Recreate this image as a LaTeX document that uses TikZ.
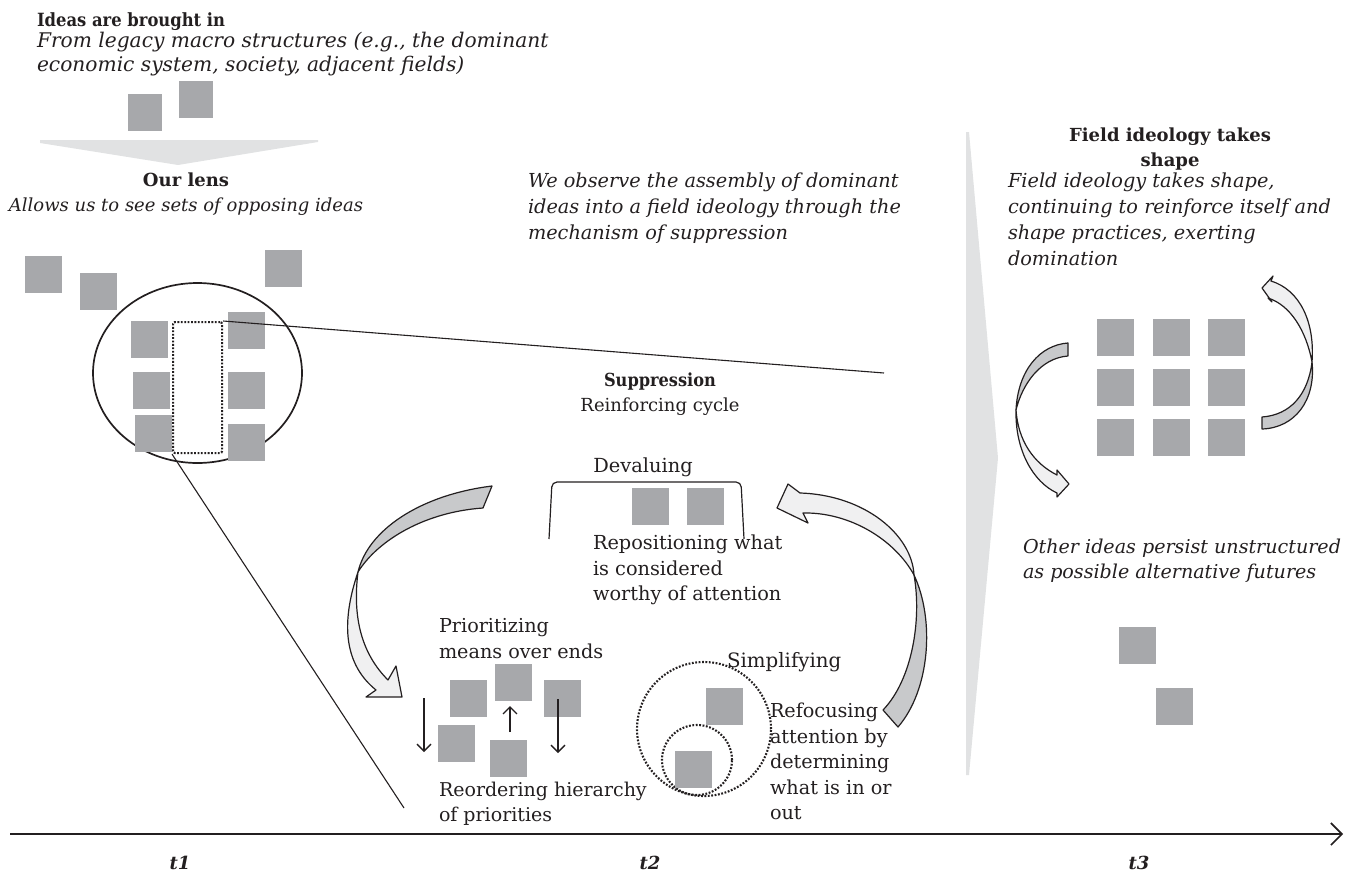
\documentclass[tikz,border=0pt]{standalone}
\usepackage{fontspec}
\setmainfont{DejaVu Serif}
\usetikzlibrary{arrows.meta}
\definecolor{sqgray}{HTML}{A7A8AB}
\definecolor{funnel}{HTML}{E1E2E3}
\definecolor{arrgray}{HTML}{C8C9CB}
\definecolor{arrlight}{HTML}{F0F0F1}
\definecolor{ink}{HTML}{231F20}
\begin{document}
\begin{tikzpicture}[x=1pt,y=-1pt,
  sq/.style={fill=sqgray,draw=none,inner sep=0pt,outer sep=0pt,minimum width=37pt,minimum height=37pt,anchor=north west},
  sqn/.style={sq,minimum width=34pt},
  txt/.style={inner sep=0pt,outer sep=0pt,text=ink,font=\fontsize{19.2}{25.5}\selectfont,align=left},
  ctxt/.style={txt,align=center},
  band/.style={draw=ink,line width=1.2pt,line join=round},
  dotline/.style={draw=ink,line width=2.1pt,dash pattern=on 1.8pt off 1.6pt},
  smallarr/.style={draw=ink,line width=1.3pt,-{Straight Barb[length=7pt,width=14pt]}},
  thin/.style={draw=ink,line width=1.1pt}
]
\useasboundingbox (0,0) rectangle (1356,880);

% ---------- top left ----------
\node[txt,anchor=base west,font=\fontsize{18.2}{25}\selectfont\bfseries\addfontfeature{FakeStretch=0.9}] (ideas) at (37,27) {Ideas are brought in};
\node[txt,anchor=north west,font=\fontsize{20.2}{24}\selectfont\itshape] (legacy) at (37,32.6) {From legacy macro structures (e.g., the dominant\\economic system, society, adjacent fields)};
\node[sqn] (q1) at (128,94) {};
\node[sqn] (q2) at (179,81) {};
\fill[funnel] (40,140) -- (318,140) -- (318,142) -- (178,165) -- (40,143) -- cycle;
\node[ctxt,anchor=north,font=\fontsize{18}{25}\selectfont] (lens) at (186,173.3) {\bfseries Our lens\\\itshape Allows us to see sets of opposing ideas};

% ---------- lens ----------
\node[sq] (o1) at (25,256) {};
\node[sq] (o2) at (80,273) {};
\node[sq] (o3) at (265,250) {};
\draw[ink,line width=1.7pt] (197.5,373) ellipse [x radius=104.5pt, y radius=90pt];
\node[sq] (l1) at (131,321) {};
\node[sq] (l2) at (133,372) {};
\node[sq] (l3) at (135,415) {};
\node[sq] (r1) at (228,312) {};
\node[sq] (r2) at (228,372) {};
\node[sq] (r3) at (228,424) {};
\node[dotline,rounded corners=2pt,inner sep=0pt,minimum width=49pt,minimum height=131pt,anchor=north west] (zoom) at (172,321) {};
\coordinate (zA) at (884,373);
\coordinate (zB) at (404,808);
\draw[thin] (zoom.north east) -- (zA);
\draw[thin] (zoom.south west) -- (zB);

% ---------- middle ----------
\node[txt,anchor=north west,font=\fontsize{19.3}{26}\selectfont\itshape] (observe) at (528,173.3) {We observe the assembly of dominant\\ideas into a field ideology through the\\mechanism of suppression};
\node[ctxt,anchor=north,font=\fontsize{18}{25}\selectfont] (supp) at (660,372.8) {{\bfseries\addfontfeature{FakeStretch=0.9}Suppression}\\Reinforcing cycle};

\node[txt,anchor=base,font=\fontsize{19.4}{25}\selectfont] (deval) at (643,472) {Devaluing};
\draw[ink,line width=1.2pt,rounded corners=5pt] (549,539) -- (552,482) -- (741,482) -- (744,539);
\node[sq] (d1) at (632,488) {};
\node[sq] (d2) at (687,488) {};
\node[txt,anchor=north west,font=\fontsize{19.3}{25.5}\selectfont] (repos) at (593,535.3) {Repositioning what\\is considered\\worthy of attention};

\node[txt,anchor=north west,font=\fontsize{19.2}{26}\selectfont] (prior) at (439,618.3) {Prioritizing\\means over ends};
\node[sq] (p1) at (450,680) {};
\node[sq] (p2) at (495,664) {};
\node[sq] (p3) at (544,680) {};
\node[sq] (p4) at (438,725) {};
\node[sq] (p5) at (490,740) {};
\coordinate (a1s) at (424,698); \coordinate (a1e) at (424,752);
\coordinate (a2s) at (510,732); \coordinate (a2e) at (510,706);
\coordinate (a3s) at (558,699); \coordinate (a3e) at (558,753);
\draw[smallarr] (a1s) -- (a1e);
\draw[smallarr] (a2s) -- (a2e);
\draw[smallarr] (a3s) -- (a3e);
\node[txt,anchor=north west,font=\fontsize{19}{25}\selectfont] (reord) at (439,782.5) {Reordering hierarchy\\of priorities};

\draw[dotline] (704,729) circle [radius=67pt];
\draw[dotline] (697,760) circle [radius=35pt];
\node[sq] (s1) at (706,688) {};
\node[sq] (s2) at (675,751) {};
\node[txt,anchor=base west,font=\fontsize{19.8}{25}\selectfont] (simp) at (727,667) {Simplifying};
\node[txt,anchor=north west] (refoc) at (770,703.3) {Refocusing\\attention by\\determining\\what is in or\\out};

% big left arrow
\filldraw[band,fill=arrgray] (492,486) .. controls (420,495) and (368,530) .. (358,572) .. controls (378,540) and (425,512) .. (483,508) -- cycle;
\filldraw[band,fill=arrlight] (358,572) .. controls (340,625) and (345,665) .. (376,690) -- (366,697) -- (402,697) -- (396,666) -- (388,680) .. controls (363,655) and (352,620) .. (358,572) -- cycle;
% big right arrow
\filldraw[band,fill=arrlight] (777,508) -- (788,484) -- (800,493) .. controls (865,495) and (912,535) .. (914,575) .. controls (895,540) and (850,512) .. (803,513) -- (808,523) -- cycle;
\filldraw[band,fill=arrgray] (914,575) .. controls (935,620) and (930,690) .. (898,727) -- (883,710) .. controls (912,680) and (922,620) .. (914,575) -- cycle;

% ---------- right ----------
\fill[funnel] (966,132) -- (969,132) -- (998,458) -- (969,775) -- (966,775) -- cycle;
\node[ctxt,anchor=north,font=\fontsize{18}{25}\selectfont\bfseries] (field) at (1170,128.3) {Field ideology takes\\shape};
\node[txt,anchor=north west,font=\fontsize{19.3}{26}\selectfont\itshape] (fieldtxt) at (1008,173.3) {Field ideology takes shape,\\continuing to reinforce itself and\\shape practices, exerting\\domination};
\foreach \c [count=\i] in {1097,1153,1208}{
  \foreach \r [count=\j] in {319,369,419}{
    \node[sq] (g\i\j) at (\c,\r) {};
  }
}
% left grid arrow
\filldraw[band,fill=arrgray] (1068,343) .. controls (1040,345) and (1018,370) .. (1016,410) .. controls (1022,385) and (1040,358) .. (1068,356) -- cycle;
\filldraw[band,fill=arrlight] (1016,410) .. controls (1015,450) and (1033,482) .. (1057,493) -- (1057,497) -- (1069,484) -- (1057,470) -- (1057,475) .. controls (1033,463) and (1018,440) .. (1016,410) -- cycle;
% right grid arrow
\filldraw[band,fill=arrlight] (1262,288) -- (1273,276) -- (1271,281) .. controls (1300,290) and (1315,322) .. (1312,362) .. controls (1306,330) and (1290,305) .. (1268,298) -- (1272,302) -- cycle;
\filldraw[band,fill=arrgray] (1312,362) .. controls (1316,400) and (1295,428) .. (1262,429) -- (1262,417) .. controls (1290,415) and (1308,395) .. (1312,362) -- cycle;

\node[txt,anchor=north west,font=\fontsize{19.1}{25}\selectfont\itshape] (other) at (1023,538.5) {Other ideas persist unstructured\\as possible alternative futures};
\node[sq] (x1) at (1119,627) {};
\node[sq] (x2) at (1156,688) {};

% ---------- time axis ----------
\coordinate (ax0) at (10,834);
\coordinate (ax1) at (1343,834);
\draw[ink,line width=1.6pt,-{Straight Barb[length=11pt,width=22pt]}] (ax0) -- (ax1);
\node[txt,anchor=base,font=\fontsize{18}{25}\selectfont\bfseries\itshape] (t1) at (180,869) {t1};
\node[txt,anchor=base,font=\fontsize{18}{25}\selectfont\bfseries\itshape] (t2) at (650,869) {t2};
\node[txt,anchor=base,font=\fontsize{18}{25}\selectfont\bfseries\itshape] (t3) at (1139,869) {t3};
\end{tikzpicture}
\end{document}
